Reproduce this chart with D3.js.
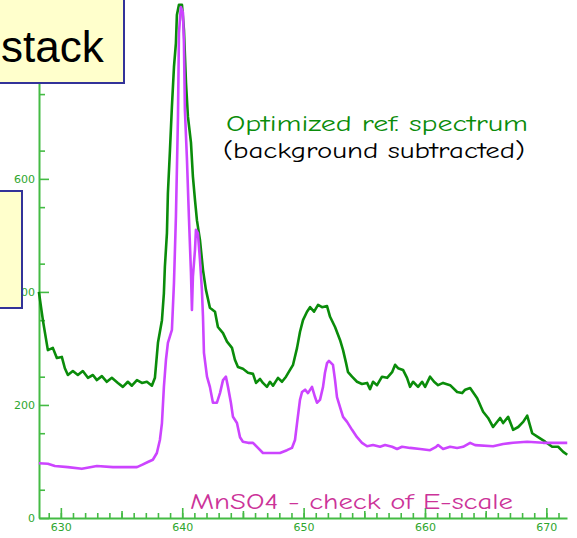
<!DOCTYPE html>
<html lang="en">
<head>
    <meta charset="UTF-8">
    <style>
        body { margin: 0; background: #fff; }
        svg { display: block; }
    </style>
</head>
<body>
    <script src="https://d3js.org/d3.v7.min.js"></script>
    <div id="here"></div>

    <script>
        // energy (eV) and counts
        const refEnergy = [628.19, 628.52, 628.93, 629.34, 629.67, 630.08, 630.33, 630.58, 630.99, 631.40,
            631.81, 632.23, 632.64, 632.97, 633.38, 633.79, 634.20, 634.70, 635.11, 635.52,
            635.85, 636.27, 636.68, 637.09, 637.50, 637.75, 638.00, 638.33, 638.49, 638.57,
            638.74, 638.82, 638.99, 639.15, 639.32, 639.48, 639.56, 639.73, 639.98, 640.14,
            640.31, 640.47, 640.72, 640.88, 641.05, 641.21, 641.46, 641.71, 641.95, 642.28,
            642.70, 642.94, 643.36, 643.69, 644.10, 644.34, 644.59, 645.00, 645.42, 645.83,
            646.08, 646.41, 646.65, 646.98, 647.23, 647.48, 647.89, 648.22, 648.55, 648.88,
            649.13, 649.46, 649.70, 649.95, 650.28, 650.53, 650.86, 651.19, 651.52, 651.93,
            652.18, 652.59, 653.00, 653.25, 653.50, 653.66, 653.99, 654.40, 654.81, 655.23,
            655.47, 655.72, 656.05, 656.46, 656.88, 657.29, 657.54, 657.78, 658.19, 658.52,
            658.77, 659.02, 659.43, 659.76, 660.01, 660.42, 660.75, 661.08, 661.49, 662.07,
            662.65, 663.06, 663.31, 663.72, 664.30, 664.79, 665.20, 665.61, 666.19, 666.44,
            666.85, 667.26, 667.68, 668.09, 668.42, 668.83, 669.32, 669.90, 670.48, 670.97,
            671.39, 671.72];
        const refCounts = [400, 350, 297, 301, 283, 285, 265, 253, 260, 253,
            260, 248, 253, 244, 251, 241, 248, 239, 232, 241,
            234, 244, 239, 241, 234, 248, 310, 350, 398, 444,
            504, 575, 651, 728, 798, 840, 890, 908, 908, 864,
            770, 710, 664, 604, 563, 527, 492, 439, 404, 372,
            365, 338, 327, 312, 301, 280, 267, 264, 257, 255,
            239, 246, 239, 232, 241, 234, 248, 241, 250, 262,
            271, 301, 329, 350, 365, 373, 365, 377, 373, 375,
            356, 338, 315, 297, 274, 258, 250, 241, 237, 239,
            228, 241, 235, 250, 248, 258, 271, 265, 262, 248,
            232, 241, 232, 241, 232, 250, 241, 235, 239, 235,
            223, 221, 227, 230, 212, 188, 177, 161, 177, 168,
            179, 156, 161, 170, 181, 150, 143, 135, 126, 126,
            117, 112];

        const mnEnergy = [628.19, 628.93, 629.51, 630.58, 631.73, 632.97, 634.29, 636.27, 636.68, 637.17,
            637.58, 637.91, 638.16, 638.33, 638.49, 638.66, 638.82, 639.15, 639.32, 639.48,
            639.65, 639.73, 639.89, 640.06, 640.14, 640.22, 640.39, 640.55, 640.72, 640.80,
            640.88, 641.05, 641.13, 641.29, 641.46, 641.62, 641.71, 641.79, 642.04, 642.28,
            642.53, 642.86, 643.11, 643.36, 643.60, 643.77, 644.01, 644.18, 644.51, 644.76,
            645.00, 645.42, 645.83, 646.24, 646.65, 647.23, 648.05, 648.63, 649.04, 649.29,
            649.46, 649.70, 649.87, 650.12, 650.36, 650.69, 650.94, 651.10, 651.35, 651.60,
            651.76, 651.93, 652.09, 652.42, 652.59, 652.75, 653.00, 653.25, 653.58, 653.99,
            654.40, 654.81, 655.23, 655.72, 656.30, 656.71, 657.29, 657.70, 658.11, 658.77,
            659.60, 660.42, 660.92, 661.08, 661.49, 662.07, 662.65, 663.14, 663.72, 664.13,
            665.61, 666.44, 667.26, 668.42, 669.74, 671.72];
        const mnCounts = [97, 96, 92, 90, 87, 92, 90, 90, 94, 99,
            103, 115, 138, 168, 232, 280, 310, 333, 416, 533,
            710, 858, 904, 894, 840, 722, 634, 533, 434, 368,
            427, 474, 510, 504, 457, 404, 356, 292, 250, 232,
            204, 204, 221, 244, 250, 232, 204, 179, 168, 143,
            135, 133, 133, 124, 115, 115, 115, 120, 124, 138,
            168, 209, 223, 227, 221, 232, 214, 204, 209, 232,
            257, 274, 278, 271, 244, 214, 196, 179, 170, 156,
            143, 133, 127, 129, 126, 129, 126, 122, 126, 124,
            122, 120, 126, 129, 122, 126, 124, 126, 133, 129,
            127, 131, 133, 135, 133, 133];

        const xMajor = [630, 640, 650, 660, 670];
        const xMid = [635, 645, 655, 665];
        // the 800 label sits under the title box, so only the tick is shown
        const yMajor = [0, 200, 400, 600, 800];
        const yLabels = ["0", "200", "400", "600", ""];

        const width = 577, height = 538;
        const green = "#0a8c0a", violet = "#cc44ff", axisGreen = "#44bb44";

        const svg = d3.select("#here")
            .append("svg")
                .attr("width", width)
                .attr("height", height)
                .style("font-family", "'DejaVu Sans', sans-serif");

        const x = d3.scaleLinear().domain([628.2, 671.7]).range([39, 567]);
        const y = d3.scaleLinear().domain([0, 920]).range([518, -2]);

        // minor ticks first, then the labelled axes on top
        svg.append("g")
            .attr("transform", "translate(0,518)")
            .call(d3.axisBottom(x).tickValues(d3.range(629, 672)).tickSize(-5).tickFormat(""))
            .call(g => g.select(".domain").remove());
        svg.append("g")
            .attr("transform", "translate(0,518)")
            .call(d3.axisBottom(x).tickValues(xMid).tickSize(-7).tickFormat(""))
            .call(g => g.select(".domain").remove());
        svg.append("g")
            .attr("transform", "translate(39,0)")
            .call(d3.axisLeft(y).tickValues(d3.range(50, 920, 100)).tickSize(-6).tickFormat(""))
            .call(g => g.select(".domain").remove());

        svg.append("g")
            .attr("transform", "translate(0,518)")
            .call(d3.axisBottom(x).tickValues(xMajor).tickSize(-10).tickSizeOuter(0).tickPadding(5));
        svg.append("g")
            .attr("transform", "translate(39,0)")
            .call(d3.axisLeft(y).tickValues(yMajor).tickSize(-10).tickSizeOuter(0).tickPadding(4)
                .tickFormat((d, i) => yLabels[i]));

        svg.selectAll(".tick line").attr("stroke", axisGreen).attr("stroke-width", 1.6);
        svg.selectAll(".domain").attr("stroke", axisGreen).attr("stroke-width", 2);
        svg.selectAll(".tick text")
            .attr("fill", "#2ea62e")
            .style("font-size", "11px")
            .style("font-family", "'DejaVu Sans', sans-serif");

        const line = d3.line().x(d => x(d[0])).y(d => y(d[1]));

        svg.append("path")
            .datum(d3.zip(refEnergy, refCounts))
            .attr("fill", "none")
            .attr("stroke", green)
            .attr("stroke-width", 2.6)
            .attr("stroke-linejoin", "round")
            .attr("d", line);

        svg.append("path")
            .datum(d3.zip(mnEnergy, mnCounts))
            .attr("fill", "none")
            .attr("stroke", violet)
            .attr("stroke-width", 2.6)
            .attr("stroke-linejoin", "round")
            .attr("d", line);

        // annotations
        const comic = "'Comic Sans MS', 'Comic Neue', 'DejaVu Sans', sans-serif";
        svg.append("text")
            .attr("x", 226).attr("y", 131)
            .attr("textLength", 302).attr("lengthAdjust", "spacingAndGlyphs")
            .attr("fill", green)
            .style("font-family", comic).style("font-size", "23px")
            .text("Optimized ref. spectrum");
        svg.append("text")
            .attr("x", 223).attr("y", 158)
            .attr("textLength", 302).attr("lengthAdjust", "spacingAndGlyphs")
            .attr("fill", "#000")
            .style("font-family", comic).style("font-size", "23px")
            .text("(background subtracted)");
        svg.append("text")
            .attr("x", 190).attr("y", 509)
            .attr("textLength", 323).attr("lengthAdjust", "spacingAndGlyphs")
            .attr("fill", "#cc3399")
            .style("font-family", comic).style("font-size", "23px")
            .text("MnSO4 - check of E-scale");

        // slide boxes overlapping the plot
        svg.append("rect")
            .attr("x", -10).attr("y", -10).attr("width", 134).attr("height", 93)
            .attr("fill", "#ffffcc").attr("stroke", "#333399").attr("stroke-width", 2);
        svg.append("text")
            .attr("x", 1).attr("y", 62)
            .attr("fill", "#000")
            .style("font-family", "'Liberation Sans', Arial, sans-serif")
            .style("font-size", "44px")
            .text("stack");
        svg.append("rect")
            .attr("x", -10).attr("y", 191).attr("width", 32).attr("height", 117)
            .attr("fill", "#ffffcc").attr("stroke", "#333399").attr("stroke-width", 2);
    </script>
</body>
</html>
